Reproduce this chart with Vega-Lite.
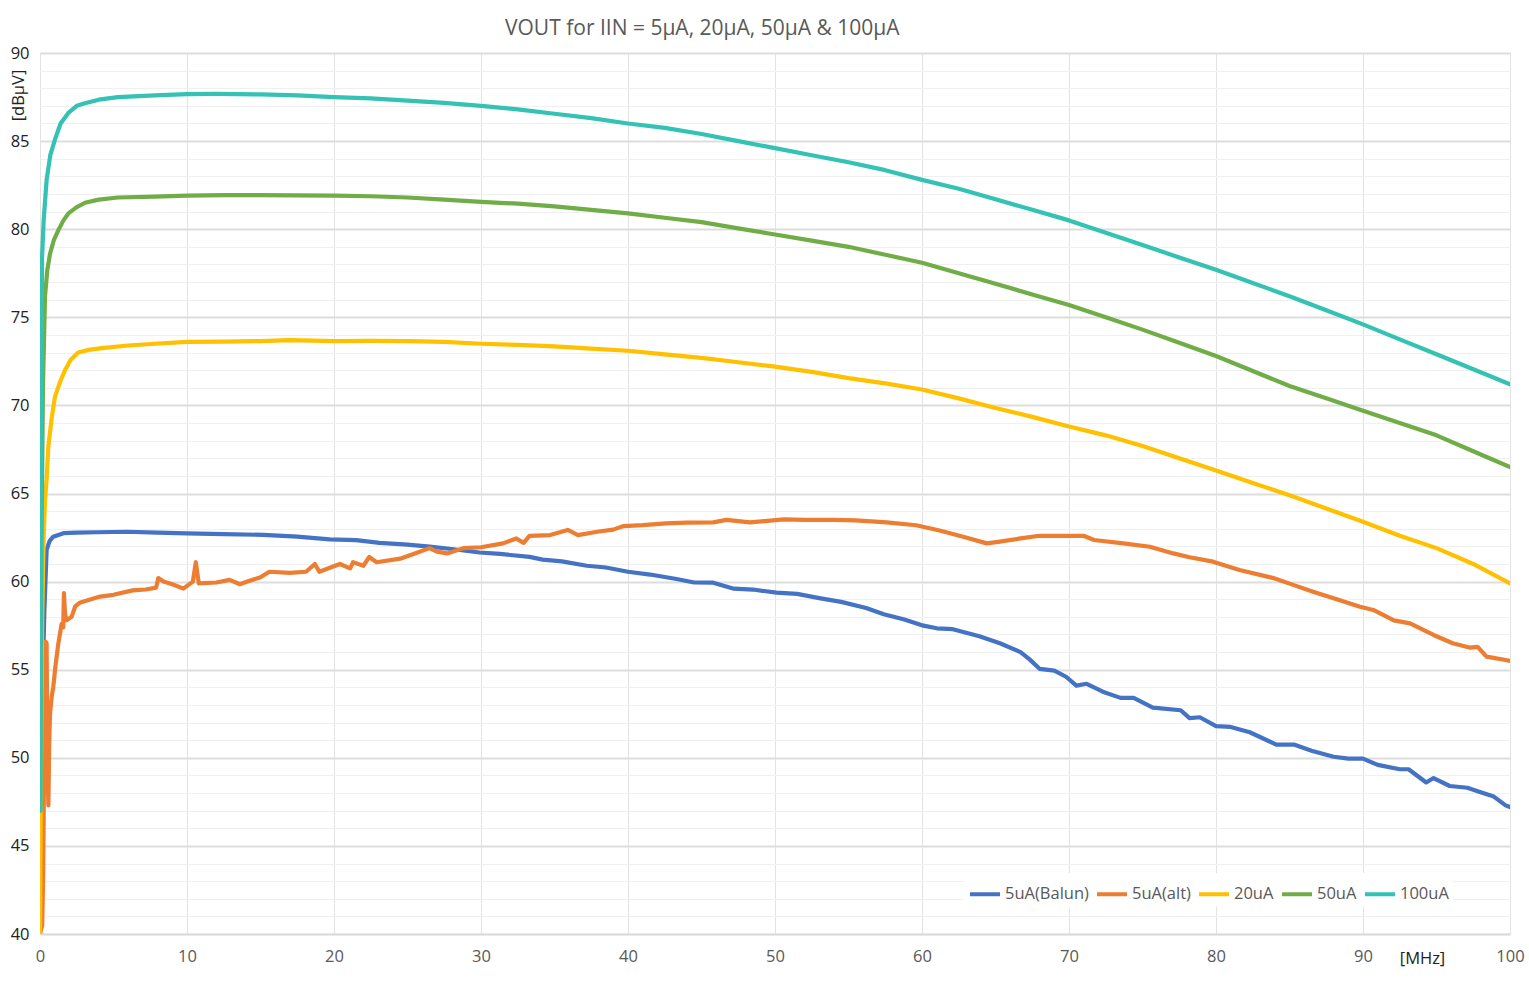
{
  "$schema": "https://vega.github.io/schema/vega-lite/v6.json",
  "width": 1470,
  "height": 881,
  "autosize": "none",
  "padding": {"left": 40, "top": 53, "right": 19, "bottom": 51},
  "background": "white",
  "title": {
    "text": "VOUT for IIN = 5µA, 20µA, 50µA & 100µA",
    "anchor": "start",
    "dx": 495,
    "offset": 6,
    "font": "Open Sans",
    "fontSize": 21,
    "fontWeight": "normal",
    "color": "#595959"
  },
  "data": {
    "values": [
      {"s": "5uA(Balun)", "f": 0.0, "v": 40},
      {"s": "5uA(Balun)", "f": 0.1, "v": 48},
      {"s": "5uA(Balun)", "f": 0.2, "v": 55},
      {"s": "5uA(Balun)", "f": 0.3, "v": 58.4},
      {"s": "5uA(Balun)", "f": 0.45, "v": 61.8},
      {"s": "5uA(Balun)", "f": 0.65, "v": 62.3},
      {"s": "5uA(Balun)", "f": 0.9, "v": 62.55},
      {"s": "5uA(Balun)", "f": 1.6, "v": 62.75},
      {"s": "5uA(Balun)", "f": 2.5, "v": 62.78},
      {"s": "5uA(Balun)", "f": 3.86, "v": 62.8},
      {"s": "5uA(Balun)", "f": 5.9, "v": 62.83},
      {"s": "5uA(Balun)", "f": 8, "v": 62.78},
      {"s": "5uA(Balun)", "f": 10, "v": 62.74},
      {"s": "5uA(Balun)", "f": 12.5, "v": 62.7},
      {"s": "5uA(Balun)", "f": 15.2, "v": 62.65},
      {"s": "5uA(Balun)", "f": 17.5, "v": 62.55},
      {"s": "5uA(Balun)", "f": 19.7, "v": 62.4},
      {"s": "5uA(Balun)", "f": 21.5, "v": 62.35},
      {"s": "5uA(Balun)", "f": 23.1, "v": 62.2},
      {"s": "5uA(Balun)", "f": 25, "v": 62.1},
      {"s": "5uA(Balun)", "f": 26.5, "v": 61.98},
      {"s": "5uA(Balun)", "f": 28, "v": 61.85},
      {"s": "5uA(Balun)", "f": 29.9, "v": 61.65},
      {"s": "5uA(Balun)", "f": 31.3, "v": 61.57},
      {"s": "5uA(Balun)", "f": 33.3, "v": 61.4},
      {"s": "5uA(Balun)", "f": 34.2, "v": 61.25},
      {"s": "5uA(Balun)", "f": 35.5, "v": 61.15},
      {"s": "5uA(Balun)", "f": 37.2, "v": 60.9},
      {"s": "5uA(Balun)", "f": 38.5, "v": 60.8},
      {"s": "5uA(Balun)", "f": 40.0, "v": 60.56},
      {"s": "5uA(Balun)", "f": 41.5, "v": 60.4},
      {"s": "5uA(Balun)", "f": 43.3, "v": 60.15},
      {"s": "5uA(Balun)", "f": 44.5, "v": 59.95},
      {"s": "5uA(Balun)", "f": 45.8, "v": 59.94},
      {"s": "5uA(Balun)", "f": 47.2, "v": 59.6},
      {"s": "5uA(Balun)", "f": 48.5, "v": 59.55},
      {"s": "5uA(Balun)", "f": 50.1, "v": 59.37},
      {"s": "5uA(Balun)", "f": 51.5, "v": 59.3},
      {"s": "5uA(Balun)", "f": 53.1, "v": 59.05},
      {"s": "5uA(Balun)", "f": 54.5, "v": 58.85},
      {"s": "5uA(Balun)", "f": 56.2, "v": 58.5},
      {"s": "5uA(Balun)", "f": 57.4, "v": 58.15},
      {"s": "5uA(Balun)", "f": 58.8, "v": 57.85},
      {"s": "5uA(Balun)", "f": 60.1, "v": 57.5},
      {"s": "5uA(Balun)", "f": 61.0, "v": 57.35},
      {"s": "5uA(Balun)", "f": 62.1, "v": 57.3},
      {"s": "5uA(Balun)", "f": 63.9, "v": 56.9},
      {"s": "5uA(Balun)", "f": 65.3, "v": 56.5},
      {"s": "5uA(Balun)", "f": 66.7, "v": 56.0},
      {"s": "5uA(Balun)", "f": 67.3, "v": 55.6},
      {"s": "5uA(Balun)", "f": 68.0, "v": 55.05},
      {"s": "5uA(Balun)", "f": 69.0, "v": 54.95},
      {"s": "5uA(Balun)", "f": 69.8, "v": 54.6},
      {"s": "5uA(Balun)", "f": 70.5, "v": 54.1},
      {"s": "5uA(Balun)", "f": 71.2, "v": 54.2},
      {"s": "5uA(Balun)", "f": 72.3, "v": 53.75},
      {"s": "5uA(Balun)", "f": 73.5, "v": 53.4},
      {"s": "5uA(Balun)", "f": 74.4, "v": 53.4},
      {"s": "5uA(Balun)", "f": 75.7, "v": 52.85},
      {"s": "5uA(Balun)", "f": 77.6, "v": 52.7},
      {"s": "5uA(Balun)", "f": 78.2, "v": 52.25},
      {"s": "5uA(Balun)", "f": 78.9, "v": 52.3},
      {"s": "5uA(Balun)", "f": 80.0, "v": 51.8},
      {"s": "5uA(Balun)", "f": 81.0, "v": 51.75},
      {"s": "5uA(Balun)", "f": 82.3, "v": 51.45},
      {"s": "5uA(Balun)", "f": 84.1, "v": 50.75},
      {"s": "5uA(Balun)", "f": 85.3, "v": 50.75},
      {"s": "5uA(Balun)", "f": 86.5, "v": 50.4},
      {"s": "5uA(Balun)", "f": 88.0, "v": 50.06},
      {"s": "5uA(Balun)", "f": 89.0, "v": 49.95},
      {"s": "5uA(Balun)", "f": 90.0, "v": 49.95},
      {"s": "5uA(Balun)", "f": 91.0, "v": 49.6},
      {"s": "5uA(Balun)", "f": 92.5, "v": 49.35},
      {"s": "5uA(Balun)", "f": 93.1, "v": 49.35},
      {"s": "5uA(Balun)", "f": 94.3, "v": 48.6},
      {"s": "5uA(Balun)", "f": 94.8, "v": 48.85},
      {"s": "5uA(Balun)", "f": 95.9, "v": 48.4},
      {"s": "5uA(Balun)", "f": 97.1, "v": 48.3},
      {"s": "5uA(Balun)", "f": 98.0, "v": 48.05},
      {"s": "5uA(Balun)", "f": 98.9, "v": 47.8},
      {"s": "5uA(Balun)", "f": 99.7, "v": 47.3},
      {"s": "5uA(Balun)", "f": 100, "v": 47.2},

      {"s": "5uA(alt)", "f": 0.0, "v": 40},
      {"s": "5uA(alt)", "f": 0.15, "v": 40.5},
      {"s": "5uA(alt)", "f": 0.22, "v": 43.5},
      {"s": "5uA(alt)", "f": 0.3, "v": 52},
      {"s": "5uA(alt)", "f": 0.38, "v": 56.6},
      {"s": "5uA(alt)", "f": 0.45, "v": 56.5},
      {"s": "5uA(alt)", "f": 0.5, "v": 50},
      {"s": "5uA(alt)", "f": 0.57, "v": 47.3},
      {"s": "5uA(alt)", "f": 0.62, "v": 50.5},
      {"s": "5uA(alt)", "f": 0.68, "v": 52.5},
      {"s": "5uA(alt)", "f": 0.8, "v": 53.5},
      {"s": "5uA(alt)", "f": 0.9, "v": 54.0},
      {"s": "5uA(alt)", "f": 1.05, "v": 55.2},
      {"s": "5uA(alt)", "f": 1.25, "v": 56.5},
      {"s": "5uA(alt)", "f": 1.47, "v": 57.6},
      {"s": "5uA(alt)", "f": 1.58, "v": 57.4},
      {"s": "5uA(alt)", "f": 1.63, "v": 59.35},
      {"s": "5uA(alt)", "f": 1.7, "v": 58.2},
      {"s": "5uA(alt)", "f": 1.8, "v": 57.8},
      {"s": "5uA(alt)", "f": 2.15, "v": 58.0},
      {"s": "5uA(alt)", "f": 2.4, "v": 58.6},
      {"s": "5uA(alt)", "f": 2.7, "v": 58.8},
      {"s": "5uA(alt)", "f": 3.3, "v": 58.95},
      {"s": "5uA(alt)", "f": 4.1, "v": 59.15},
      {"s": "5uA(alt)", "f": 5, "v": 59.25},
      {"s": "5uA(alt)", "f": 6.3, "v": 59.5},
      {"s": "5uA(alt)", "f": 7.2, "v": 59.55},
      {"s": "5uA(alt)", "f": 7.9, "v": 59.66},
      {"s": "5uA(alt)", "f": 8.05, "v": 60.2},
      {"s": "5uA(alt)", "f": 8.4, "v": 60.0},
      {"s": "5uA(alt)", "f": 9.0, "v": 59.85},
      {"s": "5uA(alt)", "f": 9.75, "v": 59.6},
      {"s": "5uA(alt)", "f": 10.4, "v": 60.0},
      {"s": "5uA(alt)", "f": 10.6, "v": 61.1},
      {"s": "5uA(alt)", "f": 10.8, "v": 59.9},
      {"s": "5uA(alt)", "f": 12, "v": 59.95},
      {"s": "5uA(alt)", "f": 12.9, "v": 60.1},
      {"s": "5uA(alt)", "f": 13.6, "v": 59.85},
      {"s": "5uA(alt)", "f": 14.1, "v": 60.0},
      {"s": "5uA(alt)", "f": 15.0, "v": 60.25},
      {"s": "5uA(alt)", "f": 15.6, "v": 60.56},
      {"s": "5uA(alt)", "f": 17, "v": 60.5},
      {"s": "5uA(alt)", "f": 18.1, "v": 60.56},
      {"s": "5uA(alt)", "f": 18.7, "v": 61.0},
      {"s": "5uA(alt)", "f": 19.0, "v": 60.56},
      {"s": "5uA(alt)", "f": 20.4, "v": 61.0},
      {"s": "5uA(alt)", "f": 21.1, "v": 60.75},
      {"s": "5uA(alt)", "f": 21.3, "v": 61.1},
      {"s": "5uA(alt)", "f": 22.0, "v": 60.9},
      {"s": "5uA(alt)", "f": 22.4, "v": 61.4},
      {"s": "5uA(alt)", "f": 22.9, "v": 61.1},
      {"s": "5uA(alt)", "f": 24.5, "v": 61.3},
      {"s": "5uA(alt)", "f": 25.5, "v": 61.6},
      {"s": "5uA(alt)", "f": 26.5, "v": 61.9},
      {"s": "5uA(alt)", "f": 27.0, "v": 61.7},
      {"s": "5uA(alt)", "f": 27.7, "v": 61.6},
      {"s": "5uA(alt)", "f": 28.8, "v": 61.9},
      {"s": "5uA(alt)", "f": 30, "v": 61.95},
      {"s": "5uA(alt)", "f": 31.5, "v": 62.17},
      {"s": "5uA(alt)", "f": 32.4, "v": 62.45},
      {"s": "5uA(alt)", "f": 32.9, "v": 62.2},
      {"s": "5uA(alt)", "f": 33.3, "v": 62.6},
      {"s": "5uA(alt)", "f": 34.7, "v": 62.64},
      {"s": "5uA(alt)", "f": 35.9, "v": 62.93},
      {"s": "5uA(alt)", "f": 36.6, "v": 62.64},
      {"s": "5uA(alt)", "f": 37.9, "v": 62.83},
      {"s": "5uA(alt)", "f": 39.0, "v": 62.95},
      {"s": "5uA(alt)", "f": 39.7, "v": 63.15},
      {"s": "5uA(alt)", "f": 41, "v": 63.2},
      {"s": "5uA(alt)", "f": 42.6, "v": 63.3},
      {"s": "5uA(alt)", "f": 44, "v": 63.35},
      {"s": "5uA(alt)", "f": 45.8, "v": 63.36},
      {"s": "5uA(alt)", "f": 46.7, "v": 63.5},
      {"s": "5uA(alt)", "f": 48.3, "v": 63.36},
      {"s": "5uA(alt)", "f": 50.6, "v": 63.53},
      {"s": "5uA(alt)", "f": 52, "v": 63.5},
      {"s": "5uA(alt)", "f": 54.0, "v": 63.5},
      {"s": "5uA(alt)", "f": 55.5, "v": 63.48},
      {"s": "5uA(alt)", "f": 57.6, "v": 63.36},
      {"s": "5uA(alt)", "f": 59.6, "v": 63.2},
      {"s": "5uA(alt)", "f": 61.2, "v": 62.9},
      {"s": "5uA(alt)", "f": 62.8, "v": 62.55},
      {"s": "5uA(alt)", "f": 64.4, "v": 62.17},
      {"s": "5uA(alt)", "f": 65.3, "v": 62.27},
      {"s": "5uA(alt)", "f": 66.7, "v": 62.45},
      {"s": "5uA(alt)", "f": 68.0, "v": 62.6},
      {"s": "5uA(alt)", "f": 71.0, "v": 62.6},
      {"s": "5uA(alt)", "f": 71.7, "v": 62.36},
      {"s": "5uA(alt)", "f": 73.7, "v": 62.17},
      {"s": "5uA(alt)", "f": 75.5, "v": 61.98},
      {"s": "5uA(alt)", "f": 77.1, "v": 61.6},
      {"s": "5uA(alt)", "f": 78.2, "v": 61.38},
      {"s": "5uA(alt)", "f": 79.8, "v": 61.13},
      {"s": "5uA(alt)", "f": 81.6, "v": 60.66},
      {"s": "5uA(alt)", "f": 83.9, "v": 60.2},
      {"s": "5uA(alt)", "f": 85.3, "v": 59.8},
      {"s": "5uA(alt)", "f": 86.6, "v": 59.43},
      {"s": "5uA(alt)", "f": 88.0, "v": 59.05},
      {"s": "5uA(alt)", "f": 89.8, "v": 58.57},
      {"s": "5uA(alt)", "f": 90.7, "v": 58.39},
      {"s": "5uA(alt)", "f": 92.1, "v": 57.8},
      {"s": "5uA(alt)", "f": 93.2, "v": 57.63},
      {"s": "5uA(alt)", "f": 94.8, "v": 56.97},
      {"s": "5uA(alt)", "f": 96.1, "v": 56.5},
      {"s": "5uA(alt)", "f": 97.3, "v": 56.25},
      {"s": "5uA(alt)", "f": 97.8, "v": 56.3},
      {"s": "5uA(alt)", "f": 98.4, "v": 55.74},
      {"s": "5uA(alt)", "f": 99.7, "v": 55.55},
      {"s": "5uA(alt)", "f": 100, "v": 55.5},

      {"s": "20uA", "f": 0.0, "v": 40},
      {"s": "20uA", "f": 0.05, "v": 48},
      {"s": "20uA", "f": 0.15, "v": 58},
      {"s": "20uA", "f": 0.25, "v": 62.5},
      {"s": "20uA", "f": 0.34, "v": 64.6},
      {"s": "20uA", "f": 0.45, "v": 65.8},
      {"s": "20uA", "f": 0.57, "v": 67.7},
      {"s": "20uA", "f": 0.8, "v": 69.3},
      {"s": "20uA", "f": 1.02, "v": 70.5},
      {"s": "20uA", "f": 1.35, "v": 71.3},
      {"s": "20uA", "f": 1.7, "v": 72.0},
      {"s": "20uA", "f": 2.1, "v": 72.6},
      {"s": "20uA", "f": 2.6, "v": 73.0},
      {"s": "20uA", "f": 3.3, "v": 73.15},
      {"s": "20uA", "f": 4.2, "v": 73.25},
      {"s": "20uA", "f": 6, "v": 73.4},
      {"s": "20uA", "f": 7.8, "v": 73.5},
      {"s": "20uA", "f": 10, "v": 73.6},
      {"s": "20uA", "f": 12.5, "v": 73.62},
      {"s": "20uA", "f": 15, "v": 73.65},
      {"s": "20uA", "f": 17, "v": 73.7},
      {"s": "20uA", "f": 20, "v": 73.65},
      {"s": "20uA", "f": 22.5, "v": 73.66},
      {"s": "20uA", "f": 25, "v": 73.65},
      {"s": "20uA", "f": 27.5, "v": 73.6},
      {"s": "20uA", "f": 30, "v": 73.5},
      {"s": "20uA", "f": 32.5, "v": 73.43},
      {"s": "20uA", "f": 35, "v": 73.35},
      {"s": "20uA", "f": 37.5, "v": 73.22},
      {"s": "20uA", "f": 40, "v": 73.1},
      {"s": "20uA", "f": 42.5, "v": 72.9},
      {"s": "20uA", "f": 45, "v": 72.7},
      {"s": "20uA", "f": 47.5, "v": 72.45},
      {"s": "20uA", "f": 50, "v": 72.2},
      {"s": "20uA", "f": 52.5, "v": 71.9},
      {"s": "20uA", "f": 55, "v": 71.55},
      {"s": "20uA", "f": 57.5, "v": 71.25},
      {"s": "20uA", "f": 60, "v": 70.9},
      {"s": "20uA", "f": 62.5, "v": 70.4},
      {"s": "20uA", "f": 65, "v": 69.85},
      {"s": "20uA", "f": 67.5, "v": 69.35},
      {"s": "20uA", "f": 70, "v": 68.8},
      {"s": "20uA", "f": 72.5, "v": 68.3},
      {"s": "20uA", "f": 75, "v": 67.7},
      {"s": "20uA", "f": 77.5, "v": 67.0},
      {"s": "20uA", "f": 80, "v": 66.3},
      {"s": "20uA", "f": 82.5, "v": 65.6},
      {"s": "20uA", "f": 85, "v": 64.9},
      {"s": "20uA", "f": 87.5, "v": 64.15},
      {"s": "20uA", "f": 90, "v": 63.4},
      {"s": "20uA", "f": 92.5, "v": 62.6},
      {"s": "20uA", "f": 95, "v": 61.9},
      {"s": "20uA", "f": 97.5, "v": 61.0},
      {"s": "20uA", "f": 100, "v": 59.9},

      {"s": "50uA", "f": 0.02, "v": 47},
      {"s": "50uA", "f": 0.1, "v": 62},
      {"s": "50uA", "f": 0.2, "v": 71},
      {"s": "50uA", "f": 0.34, "v": 76.2},
      {"s": "50uA", "f": 0.5, "v": 77.7},
      {"s": "50uA", "f": 0.68, "v": 78.6},
      {"s": "50uA", "f": 0.95, "v": 79.4},
      {"s": "50uA", "f": 1.25, "v": 79.95},
      {"s": "50uA", "f": 1.6, "v": 80.5},
      {"s": "50uA", "f": 1.93, "v": 80.9},
      {"s": "50uA", "f": 2.5, "v": 81.25},
      {"s": "50uA", "f": 3.06, "v": 81.5},
      {"s": "50uA", "f": 4, "v": 81.68},
      {"s": "50uA", "f": 5.3, "v": 81.8},
      {"s": "50uA", "f": 7.8, "v": 81.85},
      {"s": "50uA", "f": 10, "v": 81.9},
      {"s": "50uA", "f": 12.5, "v": 81.93},
      {"s": "50uA", "f": 15, "v": 81.93},
      {"s": "50uA", "f": 17.5, "v": 81.92},
      {"s": "50uA", "f": 20, "v": 81.9},
      {"s": "50uA", "f": 22.5, "v": 81.87},
      {"s": "50uA", "f": 25, "v": 81.8},
      {"s": "50uA", "f": 27.5, "v": 81.68},
      {"s": "50uA", "f": 30, "v": 81.55},
      {"s": "50uA", "f": 32.5, "v": 81.45},
      {"s": "50uA", "f": 35, "v": 81.3},
      {"s": "50uA", "f": 37.5, "v": 81.1},
      {"s": "50uA", "f": 40, "v": 80.9},
      {"s": "50uA", "f": 42.5, "v": 80.65},
      {"s": "50uA", "f": 45, "v": 80.4},
      {"s": "50uA", "f": 47.5, "v": 80.05},
      {"s": "50uA", "f": 50, "v": 79.7},
      {"s": "50uA", "f": 52.5, "v": 79.35},
      {"s": "50uA", "f": 55, "v": 79.0},
      {"s": "50uA", "f": 57.5, "v": 78.55},
      {"s": "50uA", "f": 60, "v": 78.1},
      {"s": "50uA", "f": 62.5, "v": 77.5},
      {"s": "50uA", "f": 65, "v": 76.9},
      {"s": "50uA", "f": 67.5, "v": 76.3},
      {"s": "50uA", "f": 70, "v": 75.7},
      {"s": "50uA", "f": 72.5, "v": 75.0},
      {"s": "50uA", "f": 75, "v": 74.3},
      {"s": "50uA", "f": 77.5, "v": 73.55},
      {"s": "50uA", "f": 80, "v": 72.8},
      {"s": "50uA", "f": 82.5, "v": 71.95},
      {"s": "50uA", "f": 85, "v": 71.1},
      {"s": "50uA", "f": 87.5, "v": 70.4},
      {"s": "50uA", "f": 90, "v": 69.7},
      {"s": "50uA", "f": 92.5, "v": 69.0},
      {"s": "50uA", "f": 95, "v": 68.3},
      {"s": "50uA", "f": 97.5, "v": 67.4},
      {"s": "50uA", "f": 100, "v": 66.5},

      {"s": "100uA", "f": 0.02, "v": 47},
      {"s": "100uA", "f": 0.07, "v": 66},
      {"s": "100uA", "f": 0.14, "v": 78.4},
      {"s": "100uA", "f": 0.25, "v": 80.5},
      {"s": "100uA", "f": 0.45, "v": 82.8},
      {"s": "100uA", "f": 0.7, "v": 84.2},
      {"s": "100uA", "f": 1.02, "v": 85.1},
      {"s": "100uA", "f": 1.4, "v": 86.0},
      {"s": "100uA", "f": 1.93, "v": 86.6},
      {"s": "100uA", "f": 2.5, "v": 87.0},
      {"s": "100uA", "f": 3.06, "v": 87.15},
      {"s": "100uA", "f": 4, "v": 87.35},
      {"s": "100uA", "f": 5.3, "v": 87.5},
      {"s": "100uA", "f": 7.8, "v": 87.6},
      {"s": "100uA", "f": 10, "v": 87.67},
      {"s": "100uA", "f": 12, "v": 87.68},
      {"s": "100uA", "f": 15, "v": 87.65},
      {"s": "100uA", "f": 17.5, "v": 87.6},
      {"s": "100uA", "f": 20, "v": 87.5},
      {"s": "100uA", "f": 22.5, "v": 87.42},
      {"s": "100uA", "f": 25, "v": 87.3},
      {"s": "100uA", "f": 27.5, "v": 87.17},
      {"s": "100uA", "f": 30, "v": 87.0},
      {"s": "100uA", "f": 32.5, "v": 86.8},
      {"s": "100uA", "f": 35, "v": 86.55},
      {"s": "100uA", "f": 37.5, "v": 86.3},
      {"s": "100uA", "f": 40, "v": 86.0},
      {"s": "100uA", "f": 42.5, "v": 85.75},
      {"s": "100uA", "f": 45, "v": 85.4},
      {"s": "100uA", "f": 47.5, "v": 85.0},
      {"s": "100uA", "f": 50, "v": 84.6},
      {"s": "100uA", "f": 52.5, "v": 84.2},
      {"s": "100uA", "f": 55, "v": 83.8},
      {"s": "100uA", "f": 57.5, "v": 83.35},
      {"s": "100uA", "f": 60, "v": 82.8},
      {"s": "100uA", "f": 62.5, "v": 82.3},
      {"s": "100uA", "f": 65, "v": 81.7},
      {"s": "100uA", "f": 67.5, "v": 81.1},
      {"s": "100uA", "f": 70, "v": 80.5},
      {"s": "100uA", "f": 72.5, "v": 79.8},
      {"s": "100uA", "f": 75, "v": 79.1},
      {"s": "100uA", "f": 77.5, "v": 78.4},
      {"s": "100uA", "f": 80, "v": 77.7},
      {"s": "100uA", "f": 82.5, "v": 76.95},
      {"s": "100uA", "f": 85, "v": 76.2},
      {"s": "100uA", "f": 87.5, "v": 75.4},
      {"s": "100uA", "f": 90, "v": 74.6},
      {"s": "100uA", "f": 92.5, "v": 73.75},
      {"s": "100uA", "f": 95, "v": 72.9},
      {"s": "100uA", "f": 97.5, "v": 72.05},
      {"s": "100uA", "f": 100, "v": 71.2}
    ]
  },
  "mark": {"type": "line", "strokeWidth": 4.2, "strokeJoin": "round", "strokeCap": "round", "clip": true},
  "encoding": {
    "x": {
      "field": "f",
      "type": "quantitative",
      "scale": {"domain": [0, 100], "nice": false, "zero": false},
      "axis": {
        "values": [0, 10, 20, 30, 40, 50, 60, 70, 80, 90, 100],
        "title": "[MHz]",
        "titleX": 1382,
        "titleY": 24,
        "titleAlign": "center",
        "titleBaseline": "middle",
        "titleFontWeight": "normal",
        "titleFontSize": 16.5,
        "titleColor": "#222222",
        "titleFont": "Open Sans",
        "labelFont": "Open Sans",
        "labelFontSize": 16.5,
        "labelColor": "#595959",
        "labelPadding": 14,
        "labelFlush": false,
        "ticks": false,
        "domainColor": "#D9D9D9",
        "domainWidth": 1.5,
        "grid": true,
        "gridColor": "#E3E3E3",
        "gridWidth": 1
      }
    },
    "y": {
      "field": "v",
      "type": "quantitative",
      "scale": {"domain": [40, 90], "nice": false, "zero": false},
      "axis": {
        "values": [40, 41, 42, 43, 44, 45, 46, 47, 48, 49, 50, 51, 52, 53, 54, 55, 56, 57, 58, 59, 60, 61, 62, 63, 64, 65, 66, 67, 68, 69, 70, 71, 72, 73, 74, 75, 76, 77, 78, 79, 80, 81, 82, 83, 84, 85, 86, 87, 88, 89, 90],
        "labelExpr": "datum.value % 5 === 0 ? datum.label : ''",
        "title": "[dBµV]",
        "titleX": -22,
        "titleY": 42,
        "titleAngle": -90,
        "titleAlign": "center",
        "titleBaseline": "middle",
        "titleFontWeight": "normal",
        "titleFontSize": 16.5,
        "titleColor": "#222222",
        "titleFont": "Open Sans",
        "labelFont": "Open Sans",
        "labelFontSize": 16.5,
        "labelColor": "#222222",
        "labelPadding": 11,
        "labelFlush": false,
        "labelOverlap": false,
        "ticks": false,
        "domain": false,
        "grid": true,
        "gridColor": {"condition": {"test": "datum.value % 5 === 0", "value": "#DDDDDD"}, "value": "#F0F0F0"},
        "gridWidth": {"condition": {"test": "datum.value % 5 === 0", "value": 2}, "value": 1}
      }
    },
    "color": {
      "field": "s",
      "type": "nominal",
      "scale": {
        "domain": ["5uA(Balun)", "5uA(alt)", "20uA", "50uA", "100uA"],
        "range": ["#4472C4", "#ED7D31", "#FFC000", "#70AD47", "#33C2B4"]
      },
      "legend": {
        "title": null,
        "orient": "none",
        "legendX": 924,
        "legendY": 820,
        "direction": "horizontal",
        "symbolType": "stroke",
        "symbolSize": 900,
        "symbolStrokeWidth": 4,
        "labelFont": "Open Sans",
        "labelFontSize": 16.5,
        "labelColor": "#595959",
        "labelOffset": 3,
        "columnPadding": 0,
        "fillColor": "white",
        "padding": 4
      }
    }
  },
  "config": {
    "view": {"stroke": null},
    "font": "Open Sans"
  }
}
